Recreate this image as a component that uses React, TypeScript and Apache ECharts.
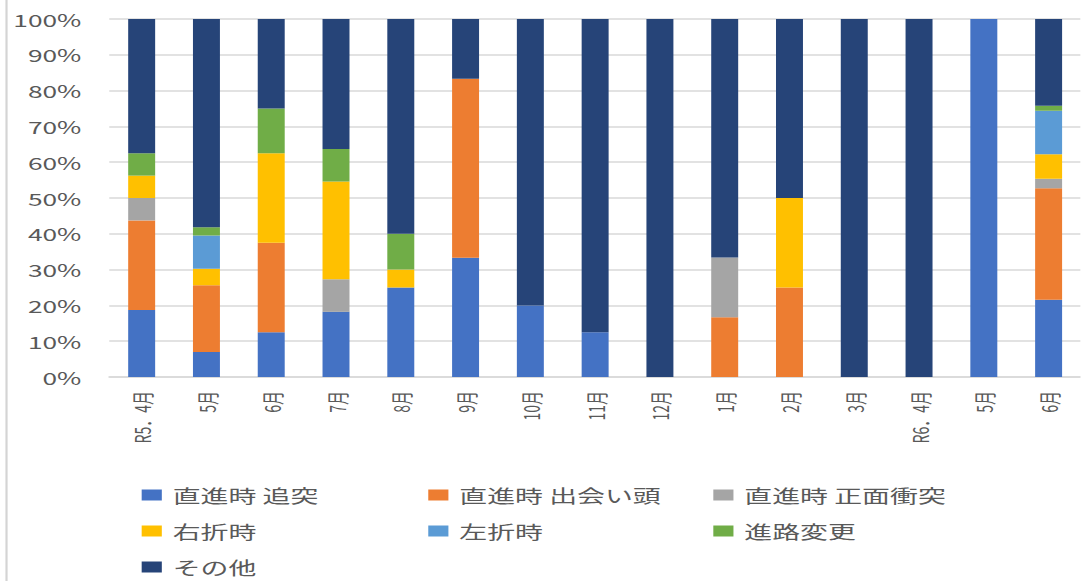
import React, { useEffect, useRef } from "react";
import * as echarts from "echarts";

const categories = ["R5．4月", "5月", "6月", "7月", "8月", "9月", "10月", "11月", "12月", "1月", "2月", "3月", "R6．4月", "5月", "6月"];
const yTicks = [0, 10, 20, 30, 40, 50, 60, 70, 80, 90, 100];

const seriesNames = ["直進時 追突", "直進時 出会い頭", "直進時 正面衝突", "右折時", "左折時", "進路変更", "その他"];
const colors = ["#4472C4", "#ED7D31", "#A5A5A5", "#FFC000", "#5B9BD5", "#70AD47", "#264478"];

const tsuitotsu = [18.75, 7.0, 12.5, 18.2, 25, 33.3, 20, 12.5, 0, 0, 0, 0, 0, 100, 21.6];
const deaigashira = [25, 18.6, 25, 0, 0, 50, 0, 0, 0, 16.7, 25, 0, 0, 0, 31.1];
const shomen = [6.25, 0, 0, 9.1, 0, 0, 0, 0, 0, 16.7, 0, 0, 0, 0, 2.7];
const usetsu = [6.25, 4.65, 25, 27.3, 5, 0, 0, 0, 0, 0, 25, 0, 0, 0, 6.8];
const sasetsu = [0, 9.3, 0, 0, 0, 0, 0, 0, 0, 0, 0, 0, 0, 0, 12.2];
const shinro = [6.25, 2.3, 12.5, 9.1, 10, 0, 0, 0, 0, 0, 0, 0, 0, 0, 1.35];
const sonota = [37.5, 58.15, 25, 36.3, 60, 16.7, 80, 87.5, 100, 66.6, 50, 100, 100, 0, 24.25];

const seriesValues = [tsuitotsu, deaigashira, shomen, usetsu, sasetsu, shinro, sonota];

const SCALE = 1.55;
const W = 1081;
const H = 581;
const W0 = W / SCALE;
const FONT = "'Noto Sans CJK JP', 'Noto Sans', sans-serif";

export default function App() {
  const ref = useRef<HTMLDivElement>(null);
  useEffect(() => {
    if (!ref.current) return;
    const chart = echarts.init(ref.current, undefined, { renderer: "svg", width: W0, height: H });
    const legendCommon = {
      orient: "vertical" as const,
      top: 485,
      height: 120,
      padding: 0,
      itemWidth: 13,
      itemHeight: 11,
      itemGap: 16,
      icon: "rect",
      textStyle: { color: "#595959", fontSize: 18, fontFamily: FONT, lineHeight: 20, padding: [0, 0, 0, 2] },
    };
    chart.setOption({
      animation: false,
      color: colors,
      textStyle: { fontFamily: FONT },
      grid: { left: 70.5, top: 19, width: 629, height: 358, containLabel: false },
      xAxis: {
        type: "category",
        data: categories,
        axisLine: { show: true, lineStyle: { color: "#d9d9d9", width: 1.5 } },
        axisTick: { show: false },
        axisLabel: { interval: 0, rotate: 90, margin: 14, color: "#595959", fontSize: 14, fontFamily: FONT },
      },
      yAxis: {
        type: "value",
        min: yTicks[0],
        max: yTicks[yTicks.length - 1],
        interval: 10,
        axisLine: { show: false },
        axisTick: { show: false },
        splitLine: { lineStyle: { color: "#d9d9d9", width: 1.5 } },
        axisLabel: { formatter: "{value}%", margin: 18, color: "#595959", fontSize: 17, fontFamily: FONT },
      },
      legend: [
        { ...legendCommon, left: 91.4, data: [seriesNames[0], seriesNames[3], seriesNames[6]] },
        { ...legendCommon, left: 276.3, data: [seriesNames[1], seriesNames[4]] },
        { ...legendCommon, left: 460.2, data: [seriesNames[2], seriesNames[5]] },
      ],
      graphic: [
        { type: "rect", left: 3.5, top: 0, shape: { x: 0, y: 0, width: 1.4, height: H }, style: { fill: "#d4d4d4" } },
      ],
      series: seriesNames.map((name, i) => ({
        name,
        type: "bar",
        stack: "total",
        barWidth: 17.4,
        data: seriesValues[i],
        itemStyle: { color: colors[i] },
      })),
    });
    return () => chart.dispose();
  }, []);
  return (
    <div style={{ position: "fixed", left: 0, top: 0, width: W, height: H, overflow: "hidden", background: "#fff" }}>
      <div
        ref={ref}
        style={{ width: W0, height: H, transform: `scaleX(${SCALE})`, transformOrigin: "0 0" }}
      />
    </div>
  );
}
